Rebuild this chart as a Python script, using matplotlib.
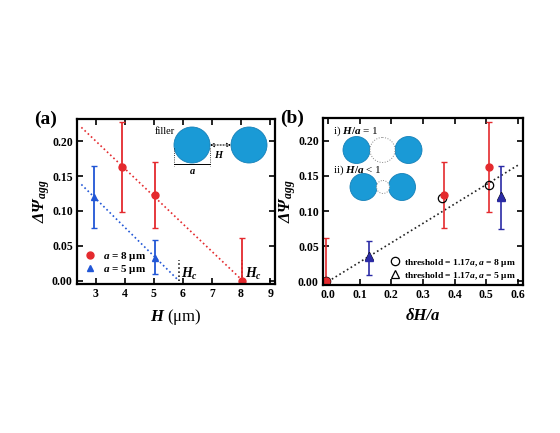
import matplotlib
matplotlib.use('Agg')
import matplotlib.pyplot as plt
from matplotlib.patches import Circle

plt.rcParams['font.family'] = 'Liberation Serif'
plt.rcParams['font.weight'] = 'bold'
plt.rcParams['mathtext.fontset'] = 'custom'
plt.rcParams['mathtext.rm'] = 'Liberation Serif:bold'
plt.rcParams['mathtext.it'] = 'Liberation Serif:italic:bold'
plt.rcParams['mathtext.bf'] = 'Liberation Serif:bold'

# panel (a): DeltaPsi_agg vs H
h8 = [3.9, 5.05, 8.05]
psi8 = [0.163, 0.123, 0.0]
lo8 = [0.099, 0.076, 0.0]
hi8 = [0.227, 0.170, 0.061]
h5 = [2.95, 5.05]
psi5 = [0.120, 0.033]
lo5 = [0.075, 0.009]
hi5 = [0.164, 0.058]
fit8_x = [2.5, 8.05]
fit8_y = [0.220, 0.0]
fit5_x = [2.5, 5.85]
fit5_y = [0.138, 0.0]
hc = [5.85, 8.05]

# panel (b): DeltaPsi_agg vs dH/a
d8 = [-0.005, 0.365, 0.51]
b8 = [0.0, 0.123, 0.163]
b8_lo = [0.0, 0.076, 0.099]
b8_hi = [0.061, 0.170, 0.227]
d5 = [0.13, 0.545]
b5 = [0.035, 0.120]
b5_lo = [0.009, 0.075]
b5_hi = [0.058, 0.164]
th8_x = [-0.005, 0.36, 0.51]
th8_y = [0.0, 0.118, 0.137]
th5_x = [0.13, 0.545]
th5_y = [0.036, 0.121]
fitb_x = [0.0, 0.6]
fitb_y = [0.0, 0.165]

red = '#e42a2e'
blue_a = '#2156d6'
blue_b = '#2b2ba6'

fig = plt.figure(figsize=(5.6, 4.33), dpi=100)
W, H = 560, 433
ax1 = fig.add_axes([77 / W, 1 - 284 / H, 198 / W, 165 / H])
ax2 = fig.add_axes([323 / W, 1 - 285 / H, 200 / W, 167 / H])


def err(v, lo, hi):
    return [[a - b for a, b in zip(v, lo)], [b - a for a, b in zip(v, hi)]]


for ax in (ax1, ax2):
    ax.tick_params(direction='in', top=True, right=True, labelsize=8.5,
                   width=1.2, length=4, pad=3)
    for s in ax.spines.values():
        s.set_linewidth(1.6)
    ax.set_yticks([0, 0.05, 0.10, 0.15, 0.20])
    ax.set_yticklabels(['0.00', '0.05', '0.10', '0.15', '0.20'])
    ax.set_ylabel(r'ΔΨ$_{\mathit{agg}}$', fontsize=12, fontstyle='italic',
                  fontweight='bold', labelpad=0)

# (a)
ax1.plot(fit8_x, fit8_y, ':', color=red, lw=1.2)
ax1.plot(fit5_x, fit5_y, ':', color=blue_a, lw=1.2)
for x in hc:
    ax1.plot([x, x], [0, 0.03], ':', color='black', lw=1.1)
    ax1.text(x + 0.08, 0.004, r'$\mathit{H_c}$', fontsize=10)
ax1.errorbar(h8, psi8, yerr=err(psi8, lo8, hi8), fmt='o', color=red, ms=5,
             capsize=2.5, elinewidth=1.3, capthick=1.0, label=r'$\mathit{a}$ = 8 μm')
ax1.errorbar(h5, psi5, yerr=err(psi5, lo5, hi5), fmt='^', color=blue_a, ms=5,
             capsize=2.5, elinewidth=1.3, capthick=1.0, label=r'$\mathit{a}$ = 5 μm')
ax1.set_xlim(2.35, 9.17)
ax1.set_ylim(-0.005, 0.232)
ax1.set_xticks(range(3, 10))
ax1.set_xlabel(r'$\mathit{H}$ (μm)', fontsize=12, labelpad=5)
hnd, lab = ax1.get_legend_handles_labels()
ax1.legend([h[0] for h in hnd], lab, loc='lower left', bbox_to_anchor=(0.0, 0.0),
           frameon=False, fontsize=8, handletextpad=0.6, labelspacing=0.0,
           handlelength=1.0, borderaxespad=0.3)
ax1.text(-0.215, 1.0, '(a)', transform=ax1.transAxes, fontsize=14, va='center')

# (b)
ax2.plot(fitb_x, fitb_y, ':', color='#222222', lw=1.2)
ax2.errorbar(d8, b8, yerr=err(b8, b8_lo, b8_hi), fmt='o', color=red, ms=5,
             capsize=2.5, elinewidth=1.2, capthick=1.0)
ax2.errorbar(d5, b5, yerr=err(b5, b5_lo, b5_hi), fmt='^', color=blue_b, ms=6,
             capsize=2.5, elinewidth=1.2, capthick=1.0)
ax2.plot(th8_x, th8_y, 'o', mfc='none', mec='black', ms=6, mew=0.9,
         label=r'threshold = 1.17$\mathit{a}$, $\mathit{a}$ = 8 μm')
ax2.plot(th5_x, th5_y, '^', mfc='none', mec='black', ms=6, mew=0.9,
         label=r'threshold = 1.17$\mathit{a}$, $\mathit{a}$ = 5 μm')
ax2.set_xlim(-0.016, 0.616)
ax2.set_ylim(-0.005, 0.232)
ax2.set_xticks([0, 0.1, 0.2, 0.3, 0.4, 0.5, 0.6])
ax2.set_xlabel('δH/a', fontsize=12, fontstyle='italic', fontweight='bold', labelpad=5)
ax2.legend(loc='lower right', bbox_to_anchor=(1.0, -0.02), frameon=False,
           fontsize=6.8, handletextpad=0.5, labelspacing=0.1, handlelength=1.0,
           borderaxespad=0.3)
ax2.text(-0.215, 1.0, '(b)', transform=ax2.transAxes, fontsize=14, va='center')

# schematic insets in figure pixel space
ov = fig.add_axes([0, 0, 1, 1], facecolor='none')
ov.set_xlim(0, W)
ov.set_ylim(H, 0)
ov.set_aspect('equal')
ov.axis('off')
fill = '#1a9ad6'
for cx, cy, r in [(192, 145, 18), (249, 145, 18),
                  (356.5, 150, 13.5), (408.5, 150, 13.5),
                  (363.5, 187, 13.5), (402, 187, 13.5)]:
    ov.add_patch(Circle((cx, cy), r, facecolor=fill, edgecolor='#1580b8', lw=0.6))
for cx, cy, r in [(382.5, 150, 12.5), (383, 187, 6.5)]:
    ov.add_patch(Circle((cx, cy), r, facecolor='white', edgecolor='#888888',
                        lw=0.7, ls=':'))
ov.text(175, 132, 'filler', fontsize=7.5, ha='right', va='center', fontweight='normal')
ov.annotate('', xy=(231, 145), xytext=(210, 145),
            arrowprops=dict(arrowstyle='<->', ls=':', lw=0.8, color='black',
                            shrinkA=0, shrinkB=0, mutation_scale=6))
ov.text(219, 155, r'$\mathit{H}$', fontsize=7.5, ha='center', va='center')
for x in (174, 210):
    ov.plot([x, x], [148, 166], ':', color='black', lw=0.6)
ov.plot([174, 210], [164, 164], '-', color='black', lw=0.7)
ov.text(192, 172, r'$\mathit{a}$', fontsize=7.5, ha='center', va='center')
ov.text(333, 131, r'i) $\mathit{H/a}$ = 1', fontsize=8, va='center', fontweight='normal')
ov.text(333, 170, r'ii) $\mathit{H/a}$ < 1', fontsize=8, va='center', fontweight='normal')

fig.savefig('out.png', dpi=100)
